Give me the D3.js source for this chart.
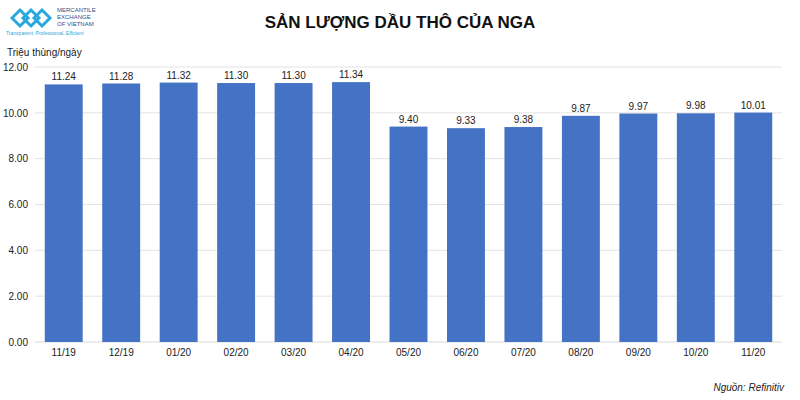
<!DOCTYPE html>
<html><head><meta charset="utf-8">
<script src="https://cdn.jsdelivr.net/npm/d3@7"></script>
<style>body{margin:0;background:#fff;font-family:"Liberation Sans",Arial,sans-serif;}</style>
</head><body><svg id="c" width="800" height="400"></svg>
<script>
const categories=["11/19","12/19","01/20","02/20","03/20","04/20","05/20","06/20","07/20","08/20","09/20","10/20","11/20"];
const values=[11.24,11.28,11.32,11.30,11.30,11.34,9.40,9.33,9.38,9.87,9.97,9.98,10.01];
const yTicks=[0,2,4,6,8,10,12];

const svg=d3.select("#c");
const x=d3.scaleBand().domain(categories).range([35,782]).paddingInner(0.34).paddingOuter(0.17);
const y=d3.scaleLinear().domain([0,12]).range([342,67]);

// grid
svg.append("g").selectAll("line").data(yTicks.filter(d=>d>0)).join("line")
 .attr("x1",35).attr("x2",782).attr("y1",d=>y(d)).attr("y2",d=>y(d))
 .attr("stroke","#e3e3e3").attr("stroke-width",1);
svg.append("line").attr("x1",35).attr("x2",782).attr("y1",y(0)).attr("y2",y(0)).attr("stroke","#d9d9d9");

// y axis
const ya=svg.append("g").attr("transform","translate(28,0)").call(d3.axisLeft(y).tickValues(yTicks).tickFormat(d3.format(".2f")).tickSize(0).tickPadding(0));
ya.select(".domain").remove();
ya.selectAll("text").attr("font-size",10).attr("fill","#222").attr("font-family","Liberation Sans, Arial, sans-serif");

// bars
svg.append("g").selectAll("rect").data(values).join("rect")
 .attr("x",(d,i)=>x(categories[i])).attr("width",x.bandwidth())
 .attr("y",d=>y(d)).attr("height",d=>y(0)-y(d)).attr("fill","#4472C4");
svg.append("g").selectAll("text").data(values).join("text")
 .attr("x",(d,i)=>x(categories[i])+x.bandwidth()/2).attr("y",d=>y(d)-4)
 .attr("text-anchor","middle").attr("font-size",10).attr("fill","#222").text(d=>d.toFixed(2));

// x axis
const xa=svg.append("g").attr("transform",`translate(0,${y(0)})`).call(d3.axisBottom(x).tickSize(0).tickPadding(7));
xa.select(".domain").remove();
xa.selectAll("text").attr("font-size",10).attr("fill","#222").attr("font-family","Liberation Sans, Arial, sans-serif");

// title & labels
svg.append("text").attr("x",400).attr("y",28).attr("text-anchor","middle").attr("font-size",17).attr("font-weight","bold").attr("fill","#111").text("SẢN LƯỢNG DẦU THÔ CỦA NGA");
svg.append("text").attr("x",7).attr("y",56).attr("font-size",10).attr("fill","#222").text("Triệu thùng/ngày");
svg.append("text").attr("x",784).attr("y",391).attr("text-anchor","end").attr("font-size",10).attr("font-style","italic").attr("fill","#222").text("Nguồn: Refinitiv");

// logo
const lg=svg.append("g");
const lc="#29a8e0";
[0,1,2].forEach(k=>{
  lg.append("path").attr("d",`M${12+k*11},18 l8,-8 l8,8 l-8,8 z`).attr("fill","none").attr("stroke",lc).attr("stroke-width",3);
});
lg.append("text").attr("x",57).attr("y",12).attr("font-size",6).attr("fill","#2a4f8f").text("MERCANTILE");
lg.append("text").attr("x",57).attr("y",19).attr("font-size",6).attr("fill","#2a4f8f").text("EXCHANGE");
lg.append("text").attr("x",57).attr("y",26).attr("font-size",6).attr("fill","#2a4f8f").text("OF VIETNAM");
lg.append("text").attr("x",6).attr("y",35).attr("font-size",5).attr("fill",lc).text("Transparent. Professional. Efficient");
</script></body></html>
